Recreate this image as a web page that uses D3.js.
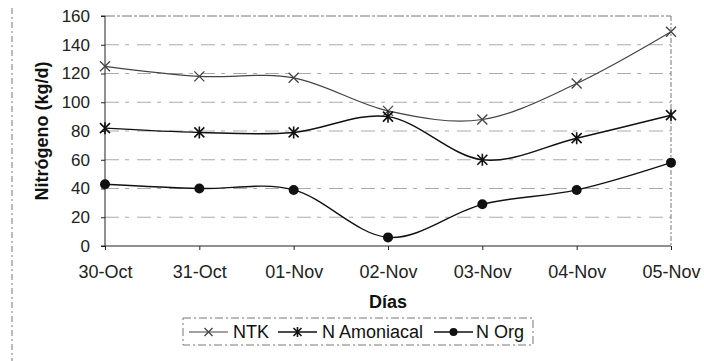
<!DOCTYPE html>
<html>
<head>
<meta charset="utf-8">
<script src="https://cdn.jsdelivr.net/npm/d3@7/dist/d3.min.js"></script>
<style>
  html, body { margin: 0; padding: 0; background: #fff; }
  svg { display: block; font-family: "Liberation Sans", Arial, sans-serif; }
</style>
</head>
<body>
<svg id="chart" width="704" height="361"></svg>
<script>
// Daily nitrogen loads (kg/d)
const days = ["30-Oct", "31-Oct", "01-Nov", "02-Nov", "03-Nov", "04-Nov", "05-Nov"];
const ntk = [125, 118, 117, 94, 88, 113, 149];
const nAmoniacal = [82, 79, 79, 90, 60, 75, 91];
const nOrg = [43, 40, 39, 6, 29, 39, 58];
const yTicks = [0, 20, 40, 60, 80, 100, 120, 140, 160];

const series = [
  { name: "NTK", values: ntk, marker: "x", color: "#444", width: 1.2 },
  { name: "N Amoniacal", values: nAmoniacal, marker: "star", color: "#111", width: 1.5 },
  { name: "N Org", values: nOrg, marker: "dot", color: "#111", width: 1.4 }
];

const FONT = "'Liberation Sans', Arial, sans-serif";
const svg = d3.select("#chart");
const plotL = 105, plotR = 671, plotT = 16, plotB = 246;

const x = d3.scalePoint().domain(days).range([plotL, plotR]);
const y = d3.scaleLinear().domain([0, 160]).range([plotB, plotT]);

// outer frame remnant on the left
svg.append("line").attr("x1", 12).attr("x2", 12).attr("y1", 8).attr("y2", 361)
  .attr("stroke", "#777").attr("stroke-width", 1).attr("stroke-dasharray", "6,3,2,3");

// horizontal gridlines
svg.append("g").selectAll("line").data(yTicks.filter(d => d > 0)).join("line")
  .attr("x1", plotL).attr("x2", plotR)
  .attr("y1", d => y(d)).attr("y2", d => y(d))
  .attr("stroke", d => d === 160 ? "#777" : "#aaa")
  .attr("stroke-width", 1)
  .attr("stroke-dasharray", d => d === 160 ? "10,2,3,2" : "14,6,4,8");

// right border of the plot area
svg.append("line").attr("x1", plotR).attr("x2", plotR).attr("y1", plotT).attr("y2", plotB)
  .attr("stroke", "#777").attr("stroke-dasharray", "5,2,2,2");

// y axis
const yAxis = d3.axisLeft(y).tickValues(yTicks).tickSize(4).tickPadding(11);
const gy = svg.append("g").attr("transform", `translate(${plotL},0)`).call(yAxis);
gy.select(".domain").attr("stroke", "#222").attr("d", `M-4,${plotT}H0V${plotB}H-4`);
gy.selectAll(".tick line").attr("stroke", "#222");
gy.selectAll(".tick text").attr("font-size", 17).attr("fill", "#222").attr("font-family", FONT);

// x axis
const xAxis = d3.axisBottom(x).tickSize(4).tickPadding(15);
const gx = svg.append("g").attr("transform", `translate(0,${plotB})`).call(xAxis);
gx.select(".domain").attr("stroke", "#222").attr("d", `M${plotL},0H${plotR}`);
gx.selectAll(".tick line").attr("stroke", "#222");
gx.selectAll(".tick text").attr("font-size", 18).attr("fill", "#222").attr("font-family", FONT);

// axis titles
svg.append("text").attr("x", 388).attr("y", 308).attr("text-anchor", "middle")
  .attr("font-size", 18).attr("font-weight", "bold").attr("fill", "#111").text("Días");
svg.append("text").attr("transform", "translate(48,131) rotate(-90)")
  .attr("text-anchor", "middle").attr("font-size", 18).attr("font-weight", "bold")
  .attr("fill", "#111").text("Nitrógeno (kg/d)");

// smoothed lines
const line = d3.line()
  .x((d, i) => x(days[i]))
  .y(d => y(d))
  .curve(d3.curveCatmullRom.alpha(0));

function drawMarker(g, type, cx, cy, color, s) {
  if (type === "x") {
    g.append("path").attr("d", `M${cx - s},${cy - s}L${cx + s},${cy + s}M${cx - s},${cy + s}L${cx + s},${cy - s}`)
      .attr("stroke", color).attr("stroke-width", 1.3).attr("fill", "none");
  } else if (type === "star") {
    g.append("path").attr("d", `M${cx - s},${cy - s}L${cx + s},${cy + s}M${cx - s},${cy + s}L${cx + s},${cy - s}M${cx},${cy - s - 1}L${cx},${cy + s + 1}`)
      .attr("stroke", color).attr("stroke-width", 1.6).attr("fill", "none");
  } else {
    g.append("circle").attr("cx", cx).attr("cy", cy).attr("r", s).attr("fill", color);
  }
}

const plot = svg.append("g");
series.forEach(s => {
  plot.append("path").datum(s.values).attr("d", line)
    .attr("fill", "none").attr("stroke", s.color).attr("stroke-width", s.width);
});
series.forEach(s => {
  const g = plot.append("g");
  s.values.forEach((v, i) => drawMarker(g, s.marker, x(days[i]), y(v), s.color, 5));
});

// legend
const lg = svg.append("g");
lg.append("rect").attr("x", 183).attr("y", 318).attr("width", 350).attr("height", 27)
  .attr("fill", "none").attr("stroke", "#777").attr("stroke-dasharray", "8,3,2,3");
const legendItems = [
  { s: series[0], x0: 189, tx: 233 },
  { s: series[1], x0: 278, tx: 322 },
  { s: series[2], x0: 434, tx: 476 }
];
legendItems.forEach(it => {
  const ly = 332;
  lg.append("line").attr("x1", it.x0).attr("x2", it.x0 + 39).attr("y1", ly).attr("y2", ly)
    .attr("stroke", it.s.color).attr("stroke-width", it.s.width);
  drawMarker(lg, it.s.marker, it.x0 + 19.5, ly, it.s.color, 4);
  lg.append("text").attr("x", it.tx).attr("y", 338).attr("font-size", 18)
    .attr("fill", "#111").text(it.s.name);
});
</script>
</body>
</html>
